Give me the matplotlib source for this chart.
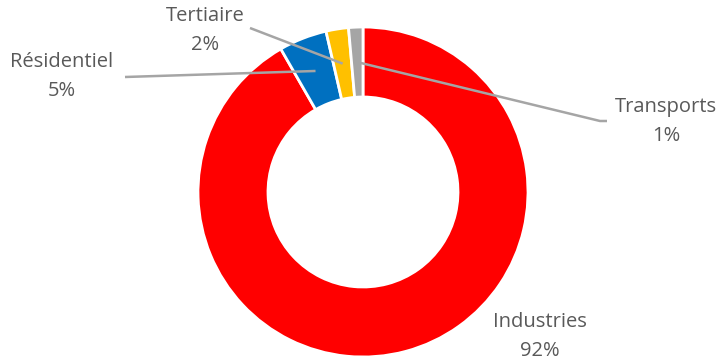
import numpy as np
import matplotlib.pyplot as plt

secteurs = ["Industries", "Résidentiel", "Tertiaire", "Transports"]
parts = [91.7, 4.7, 2.2, 1.4]
etiquettes = ["92%", "5%", "2%", "1%"]
couleurs = ["#FF0000", "#0070C0", "#FFC000", "#A5A5A5"]

plt.rcParams["font.family"] = ["Open Sans", "DejaVu Sans"]

W, H = 721, 362
fig = plt.figure(figsize=(W / 100, H / 100), dpi=100)
ax = fig.add_axes([0, 0, 1, 1])

cx, cy, R, largeur = 363, H - 192, 165, 70
wedges, _ = ax.pie(parts, colors=couleurs, startangle=90, counterclock=False,
                   center=(cx, cy), radius=R, frame=True,
                   wedgeprops=dict(width=largeur, edgecolor="white", linewidth=2))
ax.set_xlim(0, W)
ax.set_ylim(0, H)
ax.set_aspect("equal")
ax.axis("off")

# position des textes (pixels depuis le haut) et début des lignes de rappel
textes = {"Industries": (540, 322), "Résidentiel": (62, 62),
          "Tertiaire": (205, 16), "Transports": (666, 107)}
lignes = {"Résidentiel": [(125, 77)], "Tertiaire": [(250, 28)],
          "Transports": [(607, 121), (600, 121)]}

gris_txt = "#595959"
for w, nom, lab in zip(wedges, secteurs, etiquettes):
    tx, ty = textes[nom]
    ax.text(tx, H - ty, nom, ha="center", va="center", fontsize=14.5, color=gris_txt)
    ax.text(tx, H - ty - 29, lab, ha="center", va="center", fontsize=14.5, color=gris_txt)
    if nom in lignes:
        ang = np.deg2rad((w.theta1 + w.theta2) / 2)
        r = R - largeur / 2
        ax_, ay_ = cx + r * np.cos(ang), cy + r * np.sin(ang)
        pts = [(x, H - y) for x, y in lignes[nom]] + [(ax_, ay_)]
        xs, ys = zip(*pts)
        ax.plot(xs, ys, color="#A5A5A5", linewidth=1.8, solid_capstyle="butt")

fig.savefig("out.png", dpi=100, facecolor="white")
